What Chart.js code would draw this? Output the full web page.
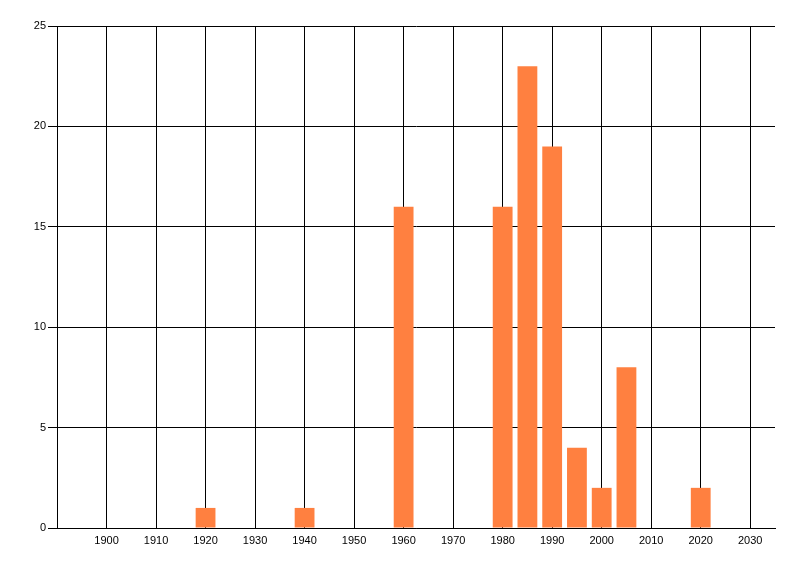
<!DOCTYPE html>
<html>
<head>
<meta charset="utf-8">
<script src="https://cdn.jsdelivr.net/npm/chart.js@4"></script>
<style>
    html, body { margin: 0; padding: 0; background: #ffffff; }
    #chart { display: block; }
</style>
</head>
<body>
<canvas id="chart" width="800" height="576"></canvas>
<script>
// Data
const years = [1920, 1940, 1960, 1980, 1985, 1990, 1995, 2000, 2005, 2020];
const counts = [1, 1, 16, 16, 23, 19, 4, 2, 8, 2];
const xTicks = [1900, 1910, 1920, 1930, 1940, 1950, 1960, 1970, 1980, 1990, 2000, 2010, 2020, 2030];
const yTicks = [0, 5, 10, 15, 20, 25];

const tickFont = { family: "'Liberation Sans', Arial, sans-serif", size: 11 };

const ctx = document.getElementById("chart").getContext("2d");
new Chart(ctx, {
    type: "bar",
    data: {
        datasets: [
            {
                data: years.map((y, i) => ({ x: y, y: counts[i] })),
                backgroundColor: "#FF8040",
                borderWidth: 0,
                barPercentage: 1,
                categoryPercentage: 0.8,
            },
        ],
    },
    options: {
        responsive: false,
        animation: false,
        layout: { padding: { top: 26, right: 25, left: 0, bottom: 0 } },
        plugins: {
            legend: { display: false },
            tooltip: { enabled: false },
        },
        scales: {
            x: {
                type: "linear",
                min: 1890,
                max: 2035,
                offset: false,
                afterBuildTicks: (scale) => {
                    scale.ticks = xTicks.map((v) => ({ value: v }));
                },
                afterFit: (scale) => {
                    scale.height = 48;
                },
                ticks: {
                    color: "#000",
                    font: tickFont,
                    maxRotation: 0,
                    autoSkip: false,
                    padding: 6,
                    callback: (value) => String(value),
                },
                grid: {
                    offset: false,
                    color: "#000",
                    lineWidth: 1,
                    drawTicks: false,
                },
                border: { color: "#000", width: 1 },
            },
            y: {
                min: 0,
                max: 25,
                afterBuildTicks: (scale) => {
                    scale.ticks = yTicks.map((v) => ({ value: v }));
                },
                afterFit: (scale) => {
                    scale.width = 57;
                },
                ticks: {
                    color: "#000",
                    font: tickFont,
                    padding: 2,
                },
                grid: {
                    color: "#000",
                    lineWidth: 1,
                    tickLength: 9,
                },
                border: { color: "#000", width: 1 },
            },
        },
    },
});
</script>
</body>
</html>
